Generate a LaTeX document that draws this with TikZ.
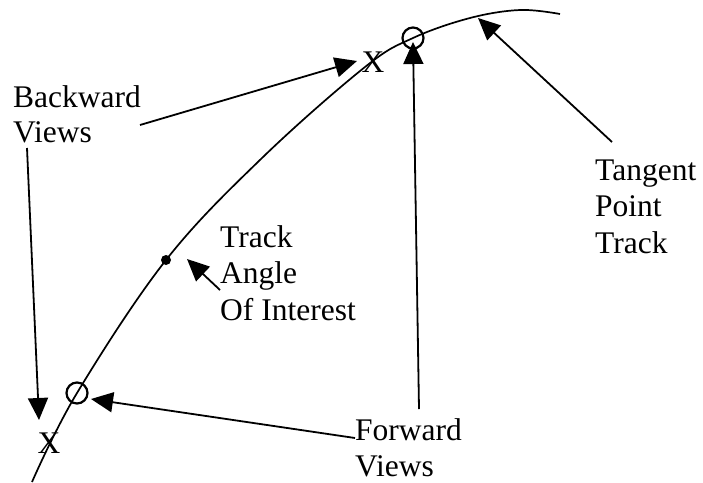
\documentclass[tikz,border=0pt]{standalone}
\usepackage{fontspec}
\setmainfont{Liberation Serif}
\usetikzlibrary{arrows.meta}
\begin{document}
\begin{tikzpicture}[x=1pt,y=-1pt,
  lbl/.style={anchor=base west,inner sep=0pt,font=\fontsize{31.5}{36}\selectfont},
  xmark/.style={anchor=base,inner sep=0pt,font=\fontsize{31.5}{36}\selectfont},
  arr/.style={line width=1.8pt,-{Triangle[length=22pt,width=20pt]}},
  trk/.style={line width=1.7pt},
  ring/.style={circle,draw,line width=2.2pt,minimum size=21pt,inner sep=0pt}]
\useasboundingbox (0,0) rectangle (703,482);
% track curve
\draw[trk] plot[smooth,tension=0.6] coordinates {(32,482) (77,393) (166,260) (262,158) (365,67) (413,38) (470,18) (520,10) (560,14)};
% marks
\node[ring] (c1) at (77,393) {};
\node[ring] (c2) at (413,38) {};
\node[circle,fill,minimum size=10pt,inner sep=0pt] (dot) at (166,260) {};
\node[xmark] (x1) at (373,72) {X};
\node[xmark] (x2) at (49,453) {X};
% labels
\node[lbl] (bw1) at (13,107) {Backward};
\node[lbl] (bw2) at (13,142) {Views};
\node[lbl] (ta1) at (220,247) {Track};
\node[lbl] (ta2) at (220,283) {Angle};
\node[lbl] (ta3) at (220,320) {Of Interest};
\node[lbl] (tp1) at (595,180) {Tangent};
\node[lbl] (tp2) at (595,216) {Point};
\node[lbl] (tp3) at (595,253) {Track};
\node[lbl] (fw1) at (355,440) {Forward};
\node[lbl] (fw2) at (355,476) {Views};
% arrow coordinates
\coordinate (a1s) at (140,125);
\coordinate (a1e) at (357,61);
\coordinate (a2s) at (27,148);
\coordinate (a2e) at (39,420);
\coordinate (a3s) at (355,438);
\coordinate (a3e) at (91,399);
\coordinate (a4s) at (419,409);
\coordinate (a4e) at (413,42);
\coordinate (a5s) at (612,142);
\coordinate (a5e) at (478,18);
\coordinate (a6s) at (220,290);
\coordinate (a6e) at (187,259);
\draw[arr] (a1s) -- (a1e);
\draw[arr] (a2s) -- (a2e);
\draw[arr] (a3s) -- (a3e);
\draw[arr] (a4s) -- (a4e);
\draw[arr] (a5s) -- (a5e);
\draw[arr] (a6s) -- (a6e);
\end{tikzpicture}
\end{document}
